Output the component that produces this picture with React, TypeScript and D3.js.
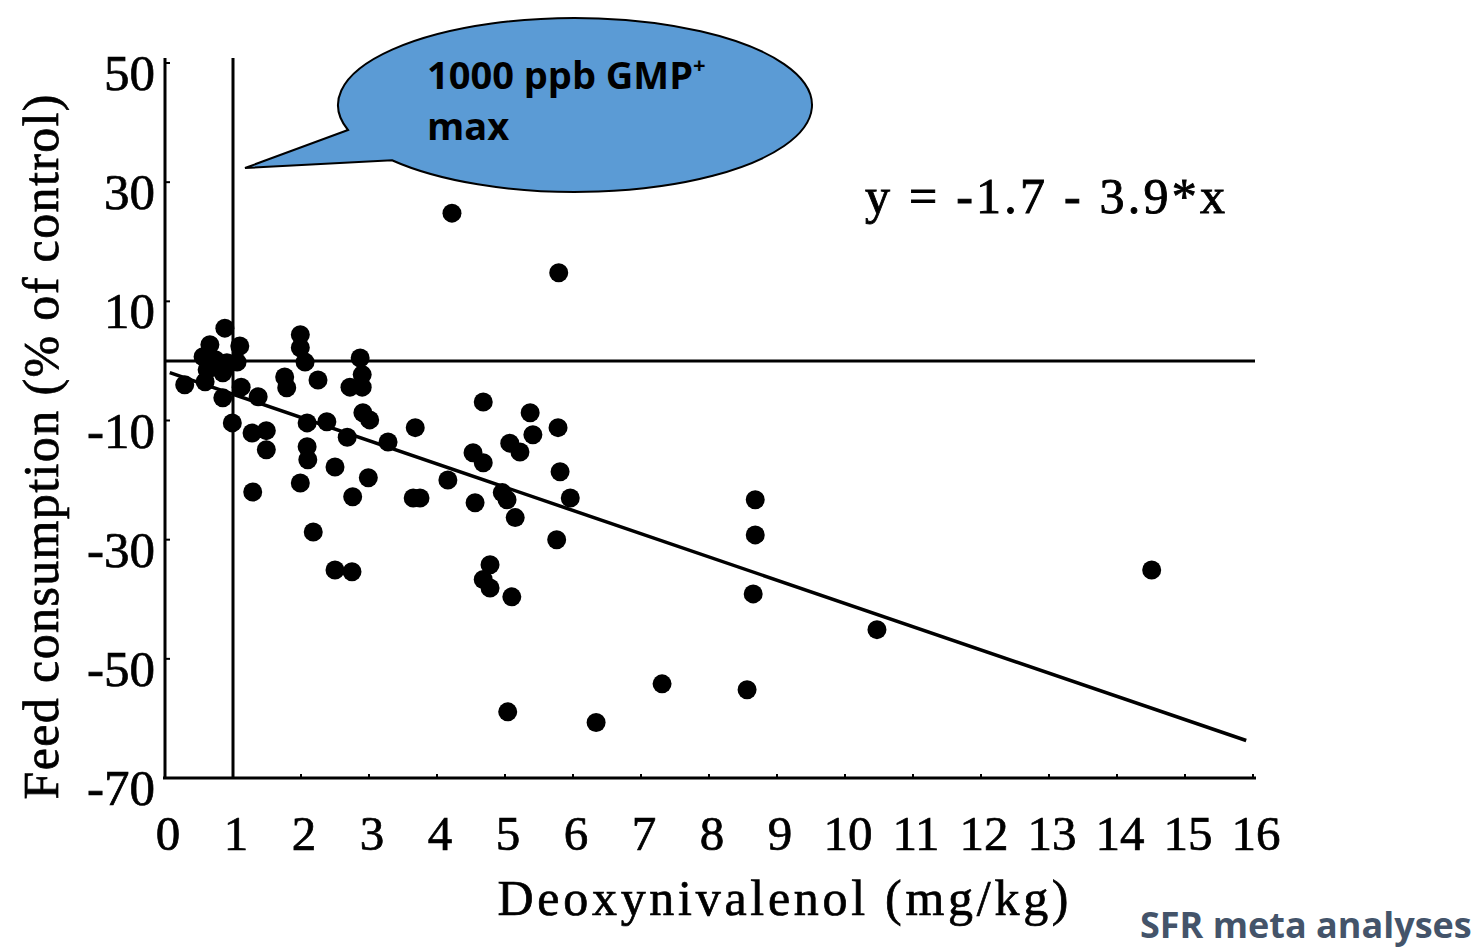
import React from "react";
import * as d3 from "d3";

// Deoxynivalenol (mg/kg) vs feed consumption (% of control)
const donValues: number[] = [
  0.29, 0.59, 0.56, 0.74, 0.62, 0.85, 0.66, 0.88, 0.91, 1.06, 1.10, 0.85, 0.99, 1.12, 1.37, 1.28, 1.49, 1.49, 1.29,
  1.99, 1.99, 2.06, 1.76, 1.79, 2.25, 2.09, 2.38, 2.09, 2.10, 1.99, 2.50, 2.18, 2.50, 2.75, 2.68, 2.87, 2.72, 2.90,
  2.90, 2.91, 3.01, 2.76, 2.99, 3.28, 3.68, 3.75, 3.65, 4.16, 4.22,
  4.68, 4.53, 4.68, 4.56, 5.37, 5.07, 5.22, 5.41, 5.78, 4.96, 5.03, 5.15, 5.81, 5.96, 5.76, 4.78, 4.68, 4.78, 5.10,
  5.04, 5.79, 6.34, 7.31, 8.56, 8.68, 8.68, 8.65, 10.47, 14.51,
];
const feedValues: number[] = [
  -4.0, -3.5, 0.7, 0.2, -1.5, -2.0, 2.7, 5.5, -0.3, -0.2, 2.5, -6.2, -10.4, -4.4, -6.0, -12.1, -11.7, -14.9, -22.0,
  4.4, 2.2, -0.2, -2.7, -4.5, -3.2, -10.4, -10.2, -14.4, -16.6, -20.5, -17.8, -28.7, -35.1, -35.4, -12.8, 0.5, -4.4, -4.4,
  -2.3, -8.7, -9.9, -22.8, -19.6, -13.6, -11.2, -23.0, -23.0, -20.0, 24.8,
  -6.9, -15.4, -17.1, -23.8, -8.7, -13.8, -15.3, -12.4, -11.2, -22.1, -23.3, -26.3, -18.6, -23.0, -30.0, -34.2, -36.7, -38.1, -39.6,
  -58.9, 14.8, -60.7, -54.2, -55.2, -23.3, -29.2, -39.1, -45.1, -35.1,
];

const xTicks: number[] = [0, 1, 2, 3, 4, 5, 6, 7, 8, 9, 10, 11, 12, 13, 14, 15, 16];
const yTicks: number[] = [50, 30, 10, -10, -30, -50, -70];

const regIntercept = -1.7;
const regSlope = -3.9;
const regRange: number[] = [0.07, 15.9];
const limitX = 1; // 1000 ppb GMP+ max

const W = 1480;
const H = 949;

export default function App() {
  const x = d3.scaleLinear().domain([0, 16]).range([165, 1253]);
  const y = d3.scaleLinear().domain([-70, 50]).range([778, 63]);

  const regLine = d3
    .line<number>()
    .x((d) => x(d))
    .y((d) => y(regIntercept + regSlope * d));

  const serif = "'Liberation Serif', 'Times New Roman', serif";
  const sans = "'Open Sans', 'Noto Sans', sans-serif";

  // callout geometry
  const cx = 575, cy = 105, rx = 237, ry = 87;
  const a1 = Math.PI - Math.acos(227 / rx); // upper tail base (left side)
  const a2 = Math.PI - Math.acos(183 / rx); // lower tail base
  const p1 = [cx + rx * Math.cos(a1), cy + ry * Math.sin(a1)];
  const p2 = [cx + rx * Math.cos(a2), cy + ry * Math.sin(a2)];
  const tip = [245, 168];
  const calloutPath = `M${p1[0]},${p1[1]} L${tip[0]},${tip[1]} L${p2[0]},${p2[1]} A${rx},${ry} 0 1 0 ${p1[0]},${p1[1]} Z`;

  const points = donValues.map((d, i) => ({ x: d, y: feedValues[i] }));

  return (
    <svg
      width={W}
      height={H}
      style={{ position: "absolute", left: 0, top: 0, background: "#fff" }}
    >
      {/* axes */}
      <line x1={x(0)} x2={x(0)} y1={58} y2={y(-70) + 1} stroke="#000" strokeWidth={3} />
      <line x1={x(0) - 2} x2={x(16) + 3} y1={y(-70)} y2={y(-70)} stroke="#000" strokeWidth={3} />
      {yTicks.map((t) => (
        <g key={"yt" + t}>
          <line x1={x(0)} x2={x(0) + 5} y1={y(t)} y2={y(t)} stroke="#000" strokeWidth={2} />
          <text
            x={155}
            y={y(t) + 27}
            textAnchor="end"
            fontFamily={serif}
            fontSize={51}
            fill="#000"
            stroke="#000"
            strokeWidth={0.7}
          >
            {t}
          </text>
        </g>
      ))}
      {xTicks.map((t) => (
        <g key={"xt" + t}>
          <line x1={x(t)} x2={x(t)} y1={y(-70)} y2={y(-70) - 4} stroke="#000" strokeWidth={2} />
          <text
            x={x(t) + 3}
            y={850}
            textAnchor="middle"
            fontFamily={serif}
            fontSize={49}
            fill="#000"
            stroke="#000"
            strokeWidth={0.7}
          >
            {t}
          </text>
        </g>
      ))}

      {/* axis titles */}
      <text
        transform={`translate(58,447) rotate(-90)`}
        textAnchor="middle"
        fontFamily={serif}
        fontSize={50}
        textLength={705}
        lengthAdjust="spacing"
        fill="#000"
        stroke="#000"
        strokeWidth={0.7}
      >
        Feed consumption (% of control)
      </text>
      <text
        x={783}
        y={915}
        textAnchor="middle"
        fontFamily={serif}
        fontSize={50}
        textLength={571}
        lengthAdjust="spacing"
        fill="#000"
        stroke="#000"
        strokeWidth={0.7}
      >
        Deoxynivalenol (mg/kg)
      </text>

      {/* reference lines */}
      <line x1={x(0)} x2={x(16) + 2} y1={y(0)} y2={y(0)} stroke="#000" strokeWidth={3} />
      <line x1={x(limitX)} x2={x(limitX)} y1={58} y2={y(-70)} stroke="#000" strokeWidth={3} />
      <path d={regLine(regRange) || ""} fill="none" stroke="#000" strokeWidth={3.5} />

      {/* points */}
      {points.map((p, i) => (
        <circle key={i} cx={x(p.x)} cy={y(p.y)} r={9.5} fill="#000" />
      ))}

      {/* equation */}
      <text
        x={865}
        y={213}
        fontFamily={serif}
        fontSize={50}
        textLength={360}
        lengthAdjust="spacing"
        fill="#000"
        stroke="#000"
        strokeWidth={0.9}
      >
        y = -1.7 - 3.9*x
      </text>

      {/* callout */}
      <path d={calloutPath} fill="#5B9BD5" stroke="#000" strokeWidth={2} />
      <text x={427} y={89} fontFamily={sans} fontWeight={700} fontSize={38} fill="#000">
        1000 ppb GMP
        <tspan dy={-16} fontSize={22}>+</tspan>
      </text>
      <text x={427} y={140} fontFamily={sans} fontWeight={700} fontSize={38} fill="#000">
        max
      </text>

      {/* source */}
      <text x={1140} y={938} fontFamily={sans} fontWeight={700} fontSize={36} fill="#44546A">
        SFR meta analyses
      </text>
    </svg>
  );
}
